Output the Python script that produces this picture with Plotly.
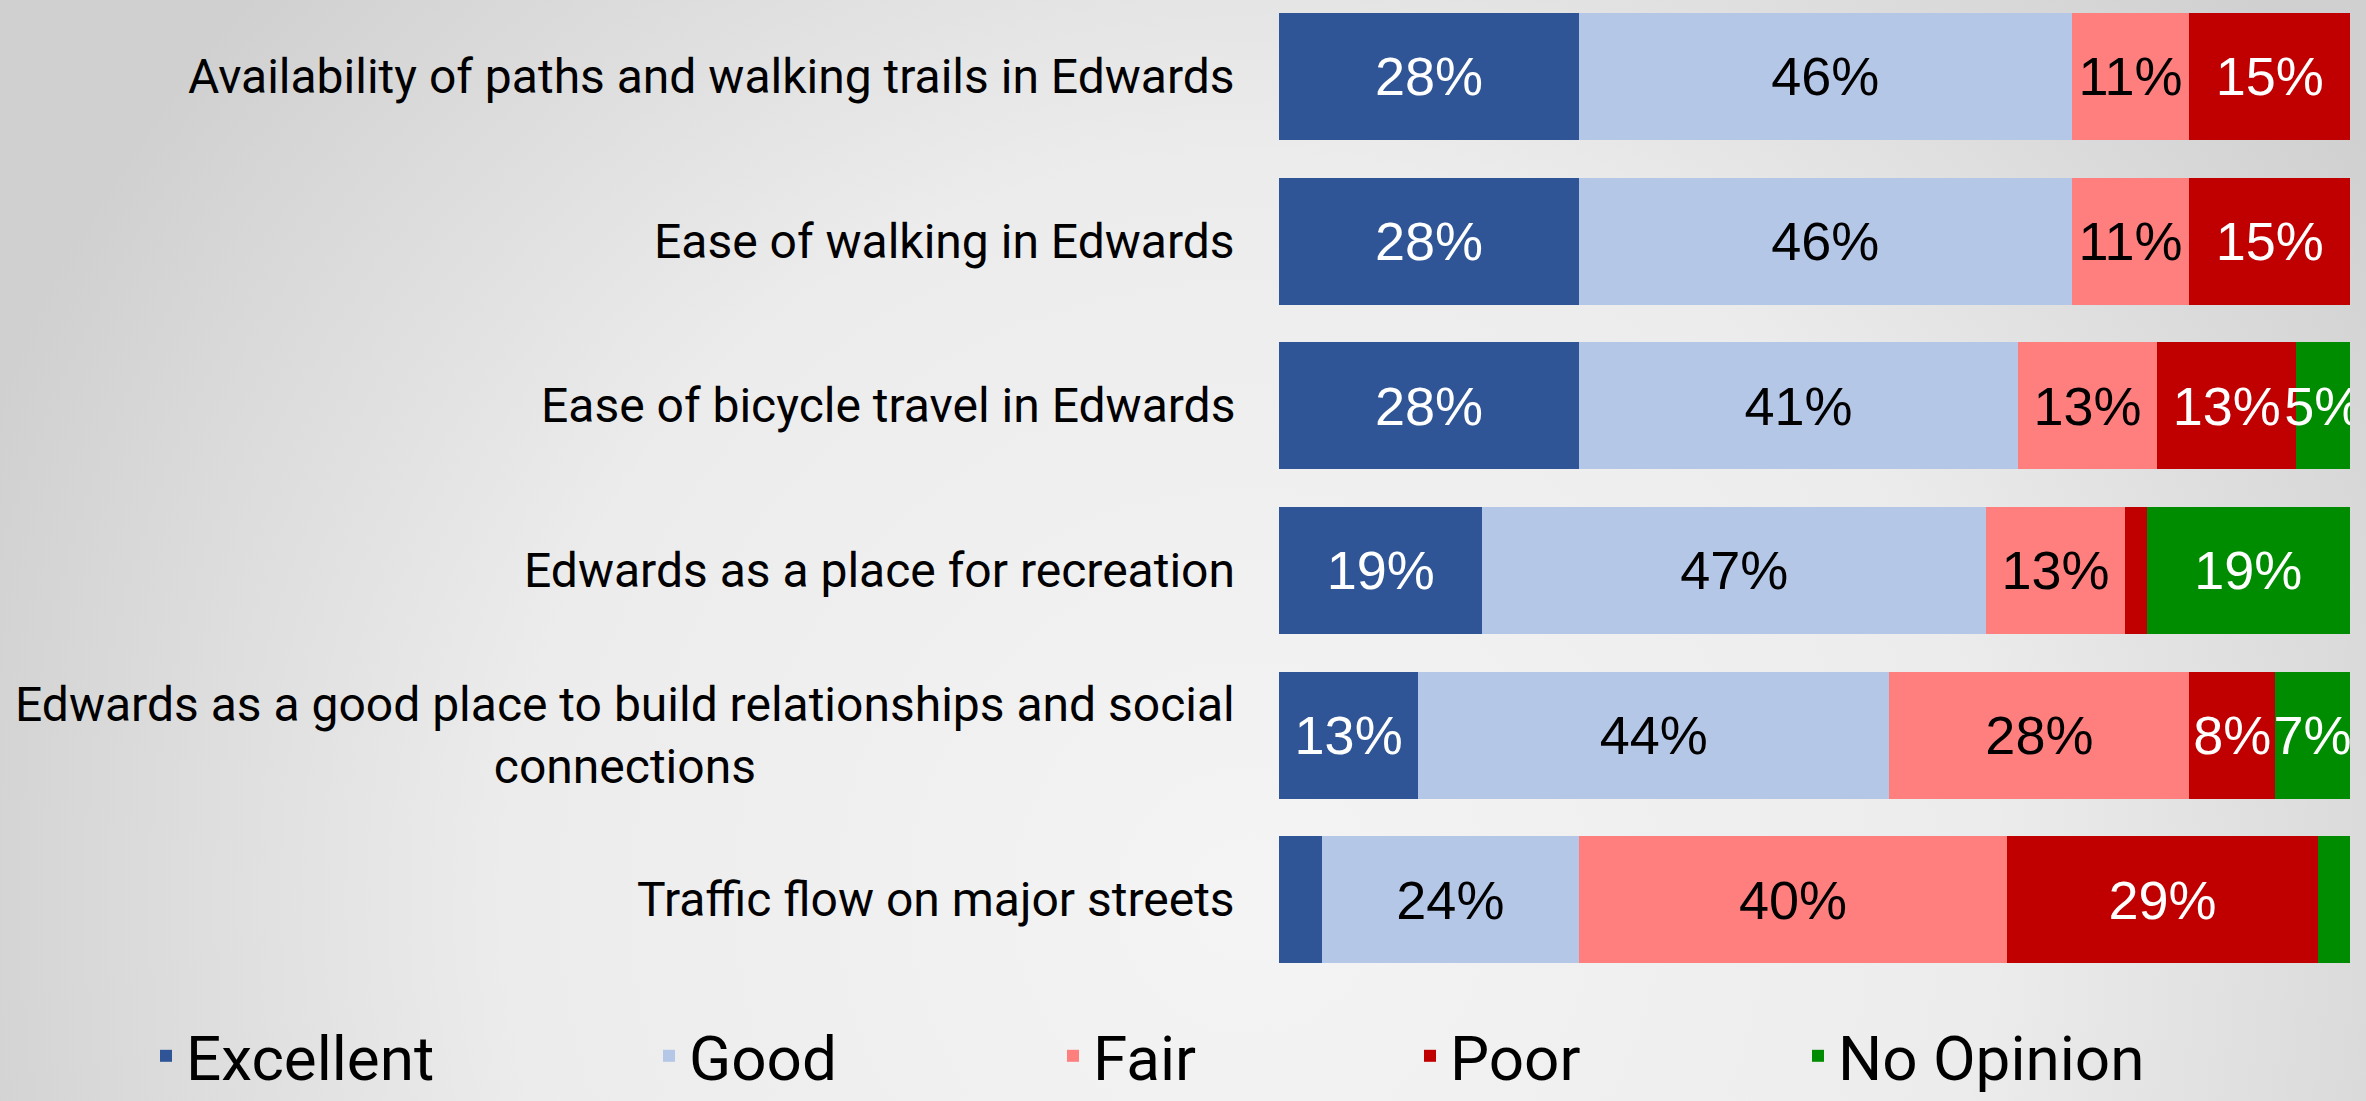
import base64
import textwrap
import plotly.graph_objects as go

# ---- data ----
categories = [
    "Availability of paths and walking trails in Edwards",
    "Ease of walking in Edwards",
    "Ease of bicycle travel in Edwards",
    "Edwards as a place for recreation",
    "Edwards as a good place to build relationships and social connections",
    "Traffic flow on major streets",
]
series_names = ["Excellent", "Good", "Fair", "Poor", "No Opinion"]
excellent = [28, 28, 28, 19, 13, 4]
good = [46, 46, 41, 47, 44, 24]
fair = [11, 11, 13, 13, 28, 40]
poor = [15, 15, 13, 2, 8, 29]
no_opinion = [0, 0, 5, 19, 7, 3]

series_values = [excellent, good, fair, poor, no_opinion]
colors = ["#2F5597", "#B4C7E7", "#FF7F7F", "#C00000", "#008C00"]
label_colors = ["white", "black", "black", "white", "white"]

# ---- layout constants ----
W, H = 2366, 1101
ML, MR, MT, MB = 1279, 16, 0, 119
plot_w = W - ML - MR
plot_h = H - MT - MB

fig = go.Figure()
legend_ids = ["legend", "legend2", "legend3", "legend4", "legend5"]
for name, vals, col, lcol, lid in zip(series_names, series_values, colors, label_colors, legend_ids):
    fig.add_trace(go.Bar(
        name=name,
        y=categories,
        x=vals,
        orientation="h",
        marker=dict(color=col, line=dict(width=0)),
        text=[f"{v}%" if v >= 5 else "" for v in vals],
        textposition="inside",
        insidetextanchor="middle",
        textangle=0,
        textfont=dict(family="Liberation Sans", size=54, color=lcol),
        legend=lid,
        hoverinfo="skip",
    ))

# category labels as centered multi-line annotations
for cat in categories:
    fig.add_annotation(
        text="<br>".join(textwrap.wrap(cat, 58)),
        x=-42 / plot_w, xref="paper", xanchor="right",
        y=cat, yref="y", yanchor="middle",
        align="center", showarrow=False,
        font=dict(family="Roboto", size=48, color="black"),
    )

# background radial gradient
svg = f'''<svg xmlns="http://www.w3.org/2000/svg" width="{W}" height="{H}" viewBox="0 0 {W} {H}">
<defs><radialGradient id="g" gradientUnits="userSpaceOnUse" cx="1250" cy="900" r="1350">
<stop offset="0" stop-color="#f4f4f4"/><stop offset="0.55" stop-color="#ececec"/><stop offset="1" stop-color="#d0d0d0"/>
</radialGradient></defs><rect width="{W}" height="{H}" fill="url(#g)"/></svg>'''
src = "data:image/svg+xml;base64," + base64.b64encode(svg.encode()).decode()
fig.add_layout_image(dict(
    source=src, xref="paper", yref="paper",
    x=-ML / plot_w, y=1 + MT / plot_h,
    sizex=W / plot_w, sizey=H / plot_h,
    xanchor="left", yanchor="top", sizing="stretch", layer="below",
))

legend_text_starts = [191, 694, 1098, 1455, 1843]
legend_cfg = {}
for lid, tx in zip(legend_ids, legend_text_starts):
    legend_cfg[lid] = dict(
        orientation="h", x=(tx - 45 - ML) / plot_w, xanchor="left",
        y=-(1056 - (MT + plot_h)) / plot_h, yanchor="middle",
        font=dict(family="Roboto", size=62, color="black"),
        bgcolor="rgba(0,0,0,0)", itemwidth=30,
    )

fig.update_layout(
    width=W, height=H,
    margin=dict(l=ML, r=MR, t=MT, b=MB, pad=0, autoexpand=False),
    barmode="stack",
    bargap=0.229,
    paper_bgcolor="rgba(0,0,0,0)",
    plot_bgcolor="rgba(0,0,0,0)",
    uniformtext=dict(minsize=54, mode="show"),
    showlegend=True,
    xaxis=dict(range=[0, 100], visible=False, fixedrange=True),
    yaxis=dict(categoryorder="array", categoryarray=categories,
               range=[5.5, -0.4645], showticklabels=False, showgrid=False,
               zeroline=False, showline=False, ticks="", fixedrange=True),
    **legend_cfg,
)

fig.write_html(
    "out.html",
    config={"displayModeBar": False},
    post_script="document.body.style.margin='0';document.body.style.overflow='hidden';",
)
